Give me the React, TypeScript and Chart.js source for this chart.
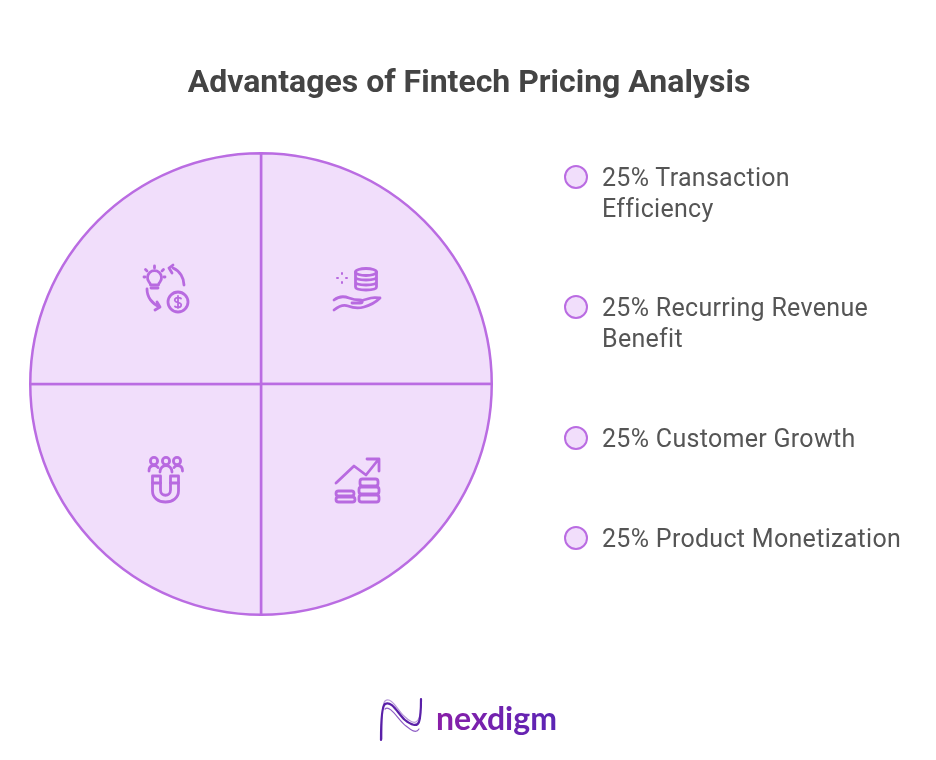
import { useEffect, useRef } from "react";
import Chart from "chart.js/auto";

const categories = [
  "Transaction Efficiency",
  "Recurring Revenue Benefit",
  "Customer Growth",
  "Product Monetization",
];
const shares = [25, 25, 25, 25];
const legendLines = [
  ["25% Transaction", "Efficiency"],
  ["25% Recurring Revenue", "Benefit"],
  ["25% Customer Growth"],
  ["25% Product Monetization"],
];
const legendTops = [162, 292, 423, 523];

const FILL = "#f1defb";
const STROKE = "#ba6ce2";
const ICON = "#b86ae0";

function Icons() {
  const common = {
    fill: "none",
    stroke: ICON,
    strokeWidth: 2.8,
    strokeLinecap: "round" as const,
    strokeLinejoin: "round" as const,
  };
  return (
    <svg
      width={936}
      height={760}
      style={{ position: "absolute", left: 0, top: 0, pointerEvents: "none" }}
    >
      <defs>
        <linearGradient id="logoText" x1="0" y1="0" x2="1" y2="0">
          <stop offset="0" stopColor="#8a1fa8" />
          <stop offset="1" stopColor="#5a25b5" />
        </linearGradient>
      </defs>

      {/* bulb and dollar */}
      <g {...common}>
        <path d="M149 282a7 7 0 1 1 11 0c-1 1-1.500 2-1.500 3h-8c0-1-.5-2-1.500-3z" />
        <path d="M151 288h7M154.500 268v-2M147 271l-1.500-1.500M162 271l1.500-1.500M145 277h-1M164 277h1" />
        <path d="M184 285c0-7-4-14-11-17M169 268l4-3M169 268l3 5" />
        <path d="M147 289c0 8 5 15 13 18M155 310l5-3-3-5" />
        <circle cx={178} cy={302} r={10} />
        <path d="M181 298.500c-1-1-5-1.500-6 .5s1 3 3 3.500 4 1.500 3 3.500-5 1.500-6 .5M178 296v12" strokeWidth={1.800} />
      </g>

      {/* coins on a hand */}
      <g {...common}>
        <ellipse cx={366} cy={272} rx={10.500} ry={3.500} />
        <path d="M355.500 272v15c0 2 4.500 3 10.500 3s10.500-1 10.500-3v-15M355.500 277c0 2 4.500 3 10.500 3s10.500-1 10.500-3M355.500 282c0 2 4.500 3 10.500 3s10.500-1 10.500-3" />
        <path d="M342 273v1M342 282v1M337 278h1M346 278h1" strokeWidth={2} />
        <path d="M334 300c5-4 10-4 15-2s8 2 11 2c3 0 3 3 0 3h-8M360 301l11-3c4-1 8 0 9 0-4 4-9 7-16 9s-11 1-16-1c-5-2-9 0-14 4" />
      </g>

      {/* people and magnet */}
      <g {...common}>
        <circle cx={154} cy={461} r={3.600} />
        <circle cx={166} cy={461} r={3.600} />
        <circle cx={177} cy={461} r={3.600} />
        <path d="M149 471c0-4 2-5.500 5-5.500 2 0 3 .5 4 2M160 472c0-4 3-6.500 6-6.500s6 2.500 6 6.500M174 467.500c1-1.500 2-2 3.500-2 3 0 5 1.500 5 5.500" />
        <path d="M152.500 476h8v14c0 7 10 7 10 0v-14h8v15c0 7-6 11-13 11s-13-4-13-11z" />
        <path d="M152.500 483h8M170.500 483h8" />
      </g>

      {/* rising arrow and coins */}
      <g {...common}>
        <path d="M336 483l18-17 12 9 12-15M367 459h12v12" />
        <rect x={360} y={479} width={18} height={7} rx={2.500} />
        <rect x={359} y={487} width={20} height={7} rx={2.500} />
        <rect x={359} y={495} width={20} height={7} rx={2.500} />
        <rect x={336} y={491} width={18} height={5} rx={2.500} />
        <rect x={336} y={497} width={19} height={5} rx={2.500} />
      </g>

      {/* logo */}
      <g fill="none" strokeLinecap="round">
        <path d="M382 739c0-14-1-34 3-38 6-5 12 8 19 15 5 5 11 9 14 4 3-4 3-14 3-21" stroke="#b79ad8" strokeWidth={1.200} />
        <path d="M381 740c0-12 0-33 4-36 7-4 13 10 20 16 6 5 12 7 14 2 2-6 2-16 2-23" stroke="#5a20a8" strokeWidth={2.200} />
        <path d="M385 709c5-5 14 12 21 17 5 4 10 8 13 3" stroke="#8d5cc4" strokeWidth={1.200} />
      </g>
      <text
        x={436}
        y={730}
        fontFamily="Lato, sans-serif"
        fontWeight={700}
        fontSize={32}
        fill="url(#logoText)"
      >
        nexdigm
      </text>
    </svg>
  );
}

export default function App() {
  const chartRef = useRef<HTMLCanvasElement>(null);

  useEffect(() => {
    if (!chartRef.current) return;
    const chart = new Chart(chartRef.current, {
      type: "pie",
      data: {
        labels: categories,
        datasets: [
          {
            data: shares,
            backgroundColor: FILL,
            borderColor: STROKE,
            borderWidth: 2.5,
            borderAlign: "center",
          },
        ],
      },
      options: {
        responsive: false,
        animation: false,
        layout: { padding: { left: 29, right: 443, top: 152, bottom: 144 } },
        plugins: {
          legend: { display: false },
          tooltip: { enabled: false },
          title: { display: false },
        },
      },
    });
    return () => chart.destroy();
  }, []);

  return (
    <div
      style={{
        position: "absolute",
        left: 0,
        top: 0,
        width: 936,
        height: 760,
        background: "#fff",
        overflow: "hidden",
        fontFamily: "Roboto, sans-serif",
      }}
    >
      <canvas ref={chartRef} width={936} height={760} style={{ position: "absolute", left: 0, top: 0 }} />
      <div
        style={{
          position: "absolute",
          left: 0,
          width: 938,
          top: 62,
          textAlign: "center",
          fontSize: 32,
          lineHeight: "38px",
          fontWeight: 700,
          color: "#444444",
        }}
      >
        Advantages of Fintech Pricing Analysis
      </div>
      {legendLines.map((lines, i) => (
        <div key={categories[i]}>
          <div
            style={{
              position: "absolute",
              left: 564,
              top: legendTops[i] + 3,
              width: 20,
              height: 20,
              borderRadius: "50%",
              background: FILL,
              border: `2.5px solid ${STROKE}`,
            }}
          />
          <div
            style={{
              position: "absolute",
              left: 602,
              top: legendTops[i],
              fontSize: 25,
              letterSpacing: 0.3,
              lineHeight: "31px",
              color: "#555555",
              whiteSpace: "nowrap",
            }}
          >
            {lines.map((line) => (
              <div key={line}>{line}</div>
            ))}
          </div>
        </div>
      ))}
      <Icons />
    </div>
  );
}
